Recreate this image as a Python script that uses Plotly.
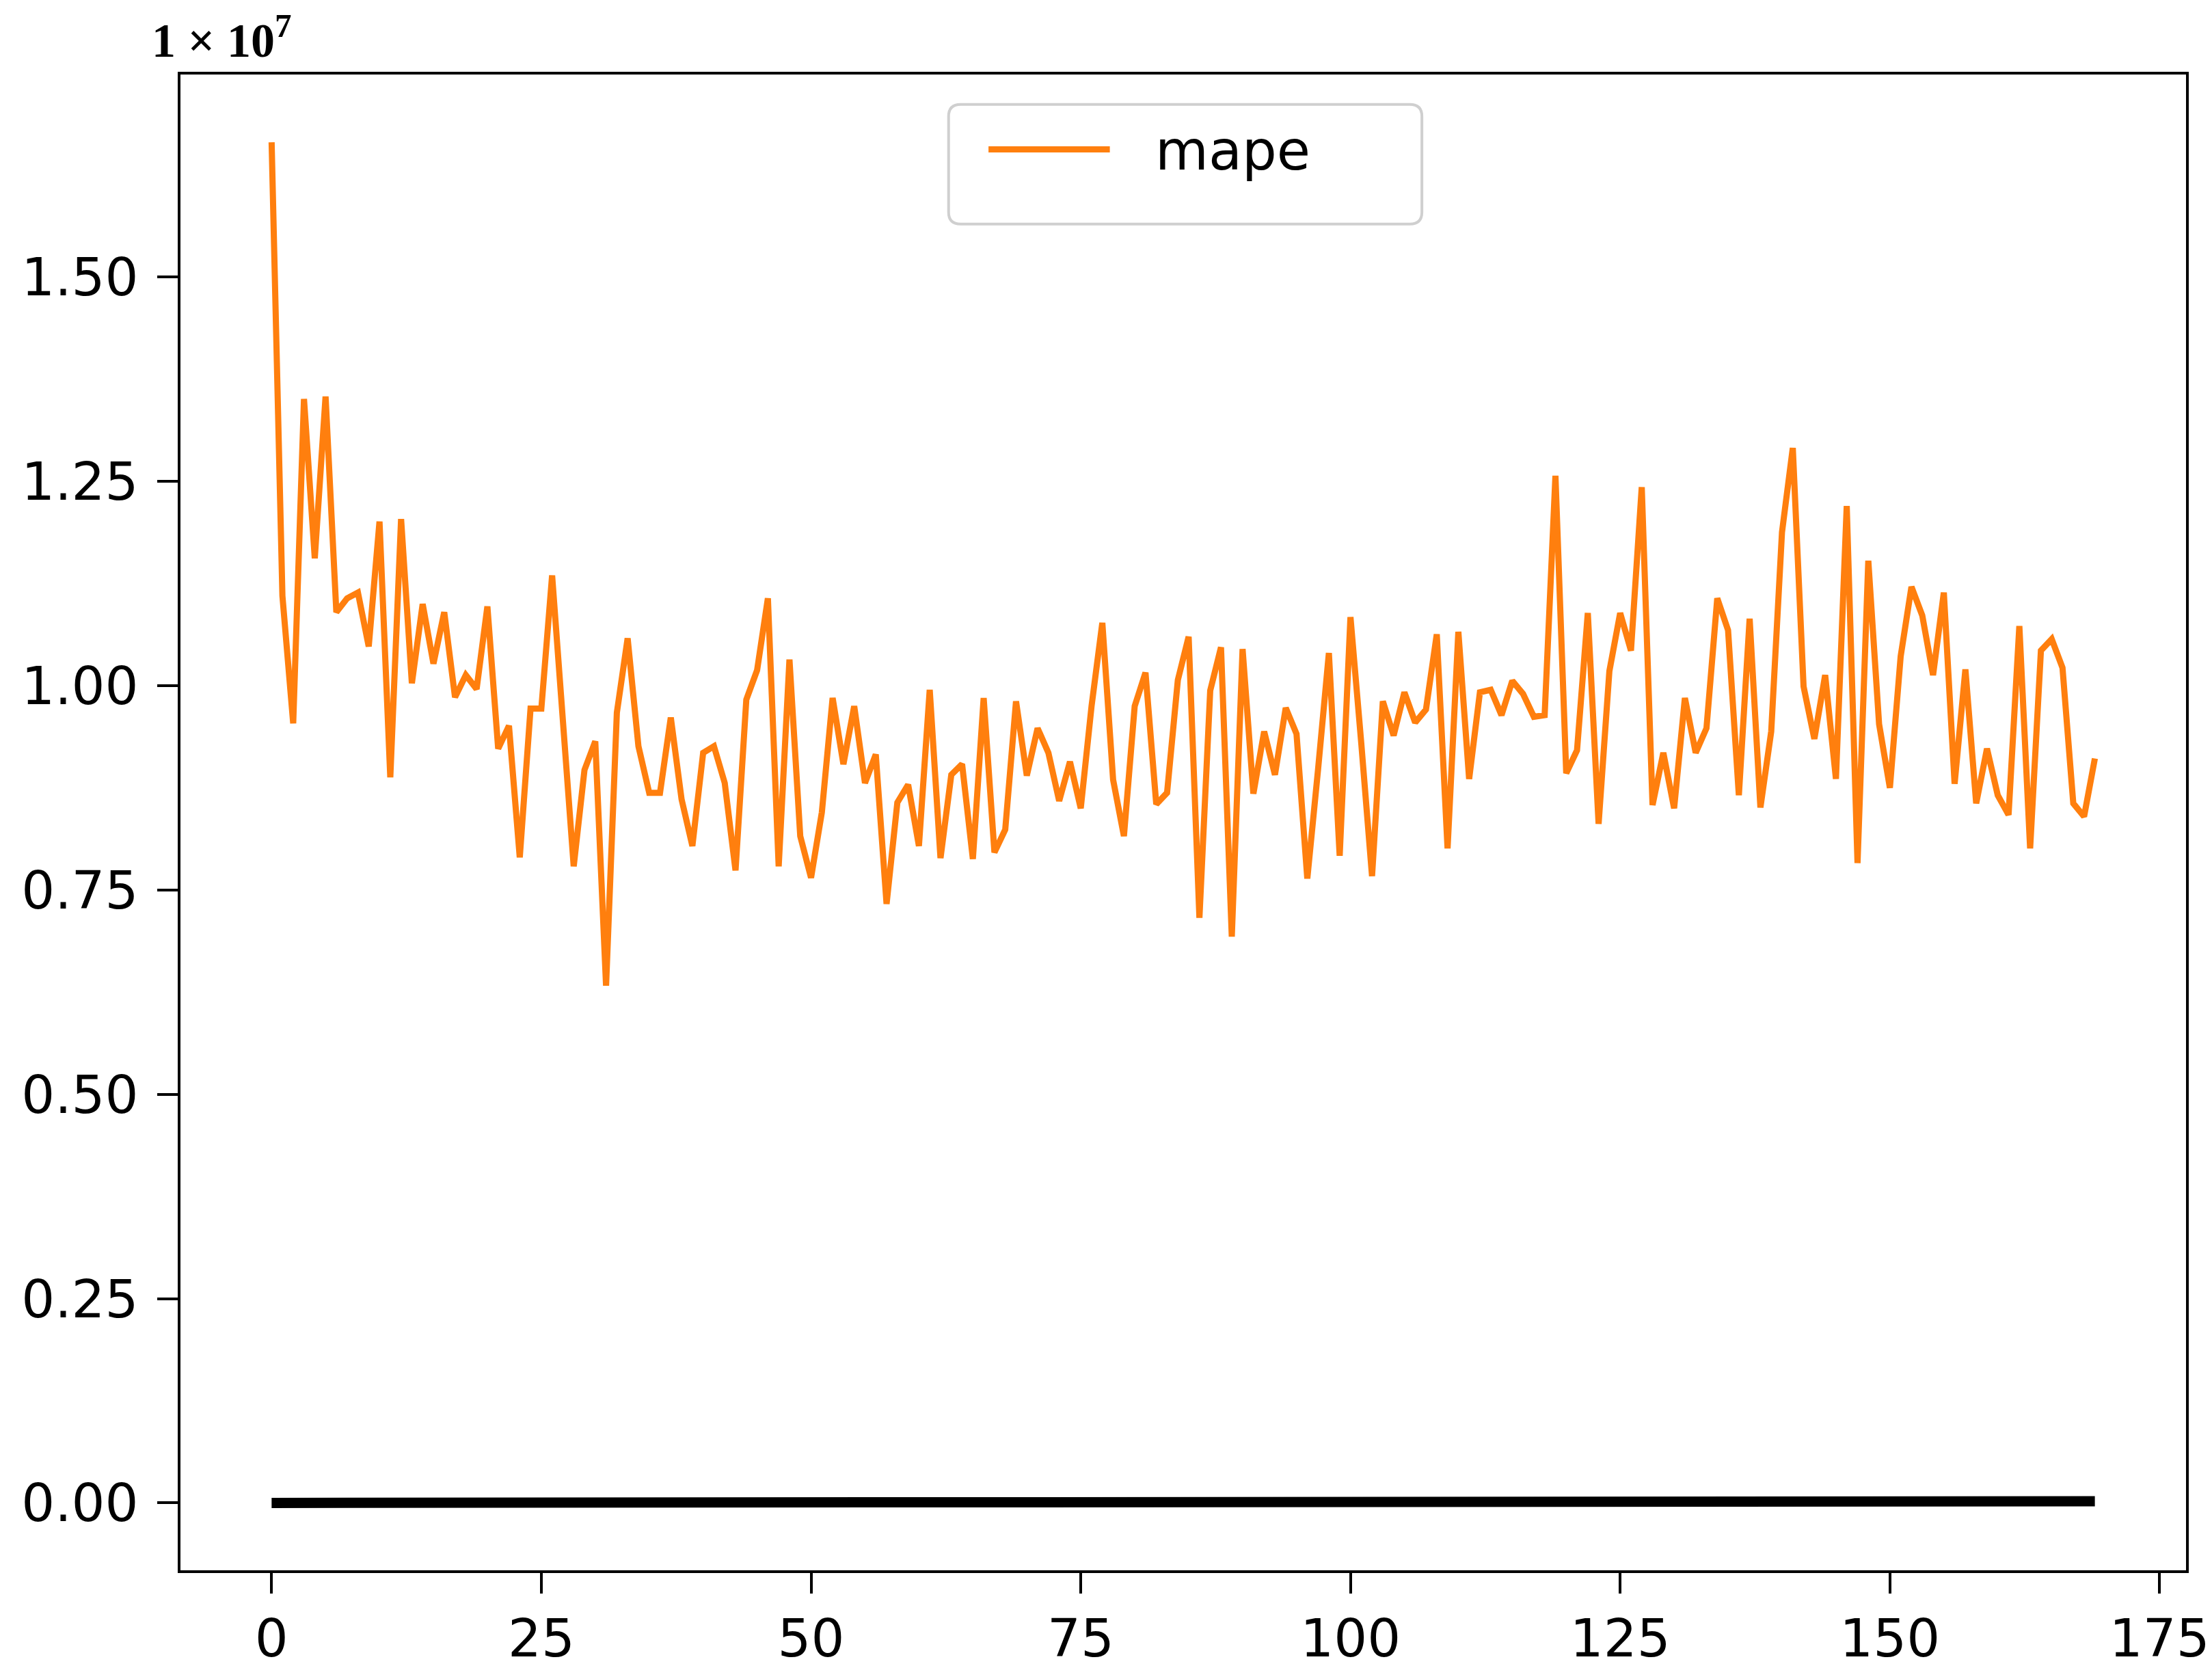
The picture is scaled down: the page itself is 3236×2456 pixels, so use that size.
import plotly.graph_objects as go

SCALE = 1e7

# epoch index
epochs = list(range(170))

# mape values in units of 1e7
mape = [
    1.665, 1.110, 0.954, 1.351, 1.156, 1.354, 1.090, 1.107, 1.114, 1.048,
    1.201, 0.888, 1.204, 1.003, 1.100, 1.027, 1.090, 0.986, 1.013, 0.996,
    1.097, 0.923, 0.951, 0.790, 0.972, 0.972, 1.135, 0.950, 0.779, 0.897,
    0.932, 0.633, 0.967, 1.058, 0.926, 0.869, 0.869, 0.961, 0.861, 0.804,
    0.918, 0.926, 0.881, 0.774, 0.983, 1.019, 1.107, 0.779, 1.032, 0.816,
    0.765, 0.845, 0.985, 0.904, 0.975, 0.881, 0.916, 0.733, 0.857, 0.879,
    0.804, 0.995, 0.789, 0.891, 0.904, 0.788, 0.985, 0.796, 0.824, 0.981,
    0.890, 0.948, 0.918, 0.859, 0.907, 0.850, 0.975, 1.077, 0.885, 0.816,
    0.975, 1.016, 0.855, 0.869, 1.007, 1.060, 0.716, 0.994, 1.047, 0.693,
    1.045, 0.868, 0.944, 0.891, 0.973, 0.941, 0.764, 0.898, 1.040, 0.792,
    1.084, 0.930, 0.767, 0.981, 0.939, 0.992, 0.955, 0.971, 1.063, 0.801,
    1.066, 0.886, 0.992, 0.995, 0.964, 1.006, 0.990, 0.962, 0.964, 1.257,
    0.893, 0.921, 1.089, 0.831, 1.018, 1.089, 1.043, 1.243, 0.854, 0.918,
    0.850, 0.985, 0.918, 0.948, 1.107, 1.068, 0.866, 1.082, 0.851, 0.944,
    1.188, 1.291, 0.999, 0.935, 1.013, 0.886, 1.220, 0.783, 1.153, 0.953,
    0.875, 1.036, 1.121, 1.086, 1.013, 1.114, 0.880, 1.020, 0.856, 0.923,
    0.866, 0.842, 1.073, 0.801, 1.043, 1.057, 1.022, 0.856, 0.840, 0.911,
]

# near-zero series (black), in units of 1e7
low_first_half = [0.0] * 85
low_second_half = [0.002] * 85
low_series = low_first_half + low_second_half

y_tick_values = [0.0, 0.25, 0.5, 0.75, 1.0, 1.25, 1.5]
y_tick_labels = ["0.00", "0.25", "0.50", "0.75", "1.00", "1.25", "1.50"]
x_tick_values = [0, 25, 50, 75, 100, 125, 150, 175]
x_tick_labels = ["0", "25", "50", "75", "100", "125", "150", "175"]

ORANGE = "#ff7f0e"

fig = go.Figure()
fig.add_trace(go.Scatter(
    x=epochs, y=[v * SCALE for v in mape], mode="lines", name="mape",
    line=dict(color=ORANGE, width=9), showlegend=False,
))
fig.add_trace(go.Scatter(
    x=epochs, y=[v * SCALE for v in low_series], mode="lines", name="loss",
    line=dict(color="black", width=15), showlegend=False,
))

TICKFONT = dict(family="DejaVu Sans", size=77, color="black")

fig.update_xaxes(
    range=[-8.45, 177.45], tickvals=x_tick_values, ticktext=x_tick_labels,
    showline=True, linecolor="black", linewidth=4, mirror=True,
    ticks="outside", ticklen=30, tickwidth=4, tickcolor="black",
    showgrid=False, zeroline=False, tickfont=TICKFONT, ticklabelstandoff=0,
)
fig.update_yaxes(
    range=[-0.0825 * SCALE, 1.748 * SCALE],
    tickvals=[v * SCALE for v in y_tick_values], ticktext=y_tick_labels,
    showline=True, linecolor="black", linewidth=4, mirror=True,
    ticks="outside", ticklen=30, tickwidth=4, tickcolor="black",
    showgrid=False, zeroline=False, tickfont=TICKFONT, ticklabelstandoff=12,
)

# legend drawn as a rounded box with a line sample and label
x0, x1, y0, y1 = 0.383, 0.619, 0.900, 0.980
rx, ry = 0.006, 0.008
path = (f"M {x0+rx},{y0} L {x1-rx},{y0} Q {x1},{y0} {x1},{y0+ry} "
        f"L {x1},{y1-ry} Q {x1},{y1} {x1-rx},{y1} L {x0+rx},{y1} "
        f"Q {x0},{y1} {x0},{y1-ry} L {x0},{y0+ry} Q {x0},{y0} {x0+rx},{y0} Z")
fig.add_shape(type="path", path=path, xref="paper", yref="paper",
              line=dict(color="#cfcfcf", width=4), fillcolor="white", layer="above")
fig.add_shape(type="line", xref="paper", yref="paper",
              x0=0.4029, x1=0.4634, y0=0.950, y1=0.950,
              line=dict(color=ORANGE, width=9), layer="above")
fig.add_annotation(text="mape", xref="paper", yref="paper", x=0.4852, y=0.949,
                   xanchor="left", yanchor="middle", showarrow=False,
                   font=dict(family="DejaVu Sans", size=80, color="black"))

# scale factor label
fig.add_annotation(text="<b>1 × 10<sup>7</sup></b>", xref="paper", yref="paper",
                   x=-0.015, y=1.0435, xanchor="left", yanchor="top", yshift=6,
                   showarrow=False,
                   font=dict(family="Liberation Serif", size=70, color="black"))

fig.update_layout(
    width=3236, height=2456,
    margin=dict(l=256, r=46, t=101, b=167),
    plot_bgcolor="white", paper_bgcolor="white",
)

fig.write_html("out.html")
